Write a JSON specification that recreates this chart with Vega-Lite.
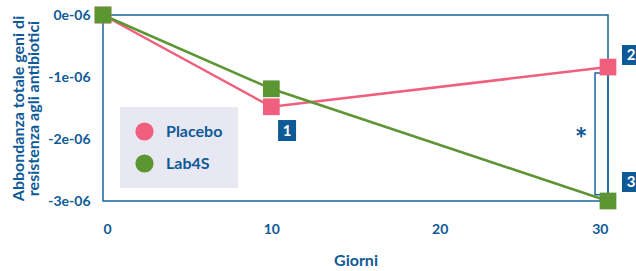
{
  "$schema": "https://vega.github.io/schema/vega-lite/v6.json",
  "width": 505,
  "height": 186,
  "autosize": {"type": "none"},
  "padding": {"left": 103, "top": 15, "right": 28, "bottom": 70},
  "background": "white",
  "config": {
    "font": "Lato",
    "view": {"stroke": "#17649F", "strokeWidth": 1.5},
    "axis": {"labelColor": "#0E5A96", "titleColor": "#0E5A96", "labelFont": "Lato", "titleFont": "Lato", "labelFontWeight": "bold", "titleFontWeight": "bold", "ticks": false, "domain": false, "grid": false},
    "legend": {"orient": "none", "legendX": 17, "legendY": 92, "title": null, "fillColor": "#E8E8F3", "padding": 15, "rowPadding": 13, "symbolType": "circle", "symbolSize": 330, "symbolStrokeWidth": 0, "symbolOpacity": 1, "labelOffset": 12, "labelFontSize": 16, "labelFont": "Lato", "labelFontWeight": "bold", "labelColor": "#0E5A96"}
  },
  "datasets": {
    "series": [
      {"giorni": 0, "abbondanza": 0, "gruppo": "Placebo"},
      {"giorni": 10, "abbondanza": -1.48e-6, "gruppo": "Placebo"},
      {"giorni": 30, "abbondanza": -0.84e-6, "gruppo": "Placebo"},
      {"giorni": 0, "abbondanza": 0, "gruppo": "Lab4S"},
      {"giorni": 10, "abbondanza": -1.19e-6, "gruppo": "Lab4S"},
      {"giorni": 30, "abbondanza": -3.0e-6, "gruppo": "Lab4S"}
    ],
    "boxes": [
      {"x1": 10.40, "x2": 11.47, "y1": -1.694e-6, "y2": -2.032e-6, "xc": 10.935, "yc": -1.863e-6, "label": "1"},
      {"x1": 30.83, "x2": 31.90, "y1": -0.484e-6, "y2": -0.806e-6, "xc": 31.37, "yc": -0.645e-6, "label": "2"},
      {"x1": 30.83, "x2": 31.90, "y1": -2.532e-6, "y2": -2.855e-6, "xc": 31.37, "yc": -2.69e-6, "label": "3"}
    ],
    "bracket": [
      {"x1": 29.23, "x2": 30.0, "y1": -0.935e-6, "y2": -2.9e-6, "xs": 28.4, "ys": -1.94e-6, "sig": "*"}
    ]
  },
  "layer": [
    {
      "data": {"name": "bracket"},
      "mark": {"type": "rect", "fill": null, "fillOpacity": 0, "stroke": "#17649F", "strokeWidth": 1.5},
      "encoding": {
        "x": {"field": "x1", "type": "quantitative", "scale": {"domain": [0, 30], "nice": false, "zero": false}},
        "x2": {"field": "x2"},
        "y": {"field": "y1", "type": "quantitative"},
        "y2": {"field": "y2"}
      }
    },
    {
      "data": {"name": "bracket"},
      "mark": {"type": "text", "fontSize": 30, "fontWeight": "bold", "color": "#0E5A96", "baseline": "middle", "align": "center", "font": "Lato", "dy": 6},
      "encoding": {
        "x": {"field": "xs", "type": "quantitative"},
        "y": {"field": "ys", "type": "quantitative"},
        "text": {"field": "sig"}
      }
    },
    {
      "data": {"name": "series"},
      "mark": {"type": "line", "strokeWidth": 2.5},
      "encoding": {
        "x": {"field": "giorni", "type": "quantitative", "scale": {"domain": [0, 30], "nice": false, "zero": false},
          "axis": {"values": [0, 10, 20, 30], "title": "Giorni", "labelFontSize": 14, "titleFontSize": 16, "labelPadding": 21, "titlePadding": 16}},
        "y": {"field": "abbondanza", "type": "quantitative", "scale": {"domain": [-3e-6, 0], "nice": false, "zero": false},
          "axis": {"values": [0, -1e-6, -2e-6, -3e-6], "labelExpr": "toString(round(datum.value*1e6)) + 'e-06'", "title": ["Abbondanza totale geni di", "resistenza agli antibiotici"], "labelFontSize": 14, "titleFontSize": 16, "titleLineHeight": 15, "labelPadding": 13, "titlePadding": 6}},
        "color": {"field": "gruppo", "type": "nominal", "scale": {"domain": ["Placebo", "Lab4S"], "range": ["#F0607E", "#5C9632"]}},
        "order": {"field": "giorni"}
      }
    },
    {
      "data": {"name": "series"},
      "mark": {"type": "point", "shape": "square", "filled": true, "size": 280, "opacity": 1},
      "encoding": {
        "x": {"field": "giorni", "type": "quantitative"},
        "y": {"field": "abbondanza", "type": "quantitative"},
        "color": {"field": "gruppo", "type": "nominal"}
      }
    },
    {
      "data": {"name": "boxes"},
      "mark": {"type": "rect", "fill": "#0E5A96"},
      "encoding": {
        "x": {"field": "x1", "type": "quantitative"},
        "x2": {"field": "x2"},
        "y": {"field": "y1", "type": "quantitative"},
        "y2": {"field": "y2"}
      }
    },
    {
      "data": {"name": "boxes"},
      "mark": {"type": "text", "fontSize": 15, "fontWeight": "bold", "color": "white", "align": "center", "baseline": "middle", "font": "Lato"},
      "encoding": {
        "x": {"field": "xc", "type": "quantitative"},
        "y": {"field": "yc", "type": "quantitative"},
        "text": {"field": "label"}
      }
    }
  ]
}
